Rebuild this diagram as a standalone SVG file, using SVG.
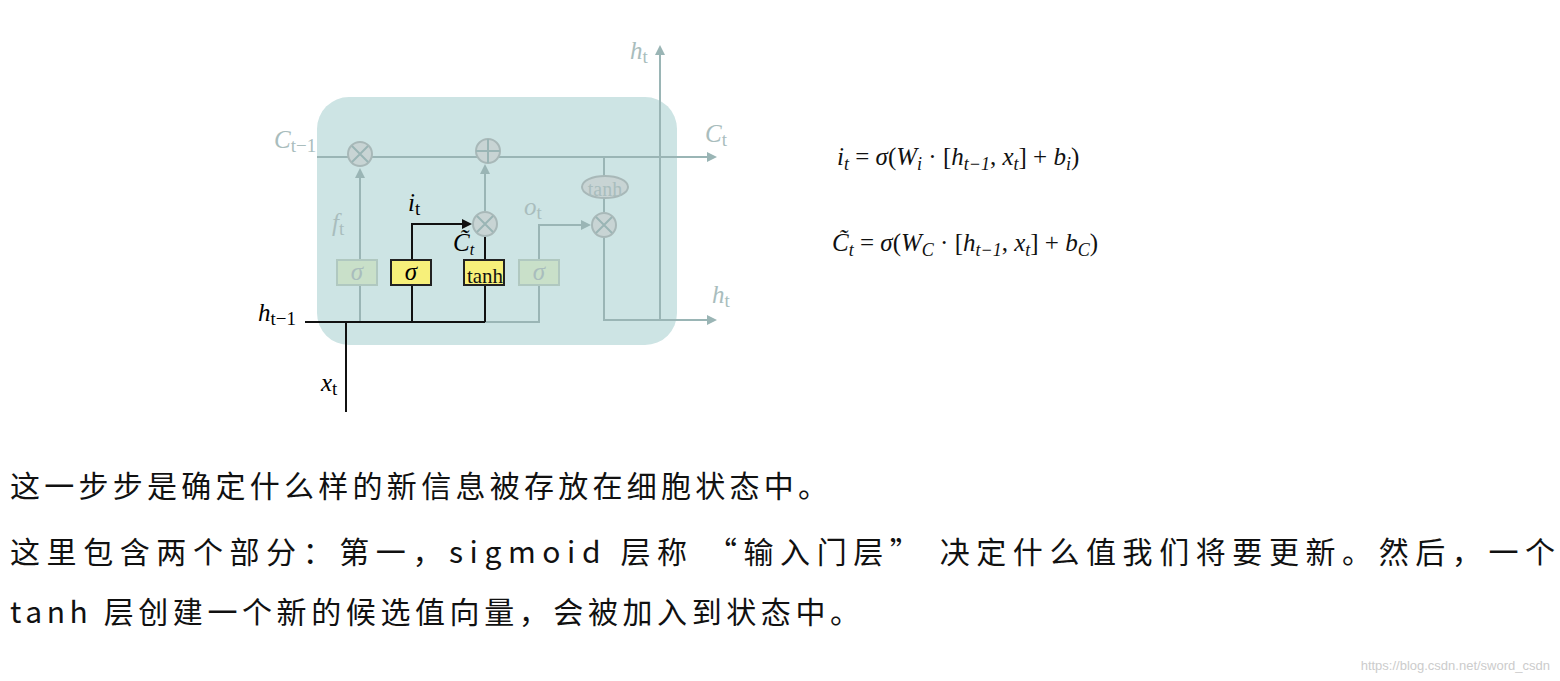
<svg xmlns="http://www.w3.org/2000/svg" width="1560" height="681" viewBox="0 0 1560 681">
<style>
.g{stroke:#9ab5b5;stroke-width:2;fill:none}
.k{stroke:#111;stroke-width:2;fill:none}
.op{fill:#c8d4d4;stroke:#a8b8b8;stroke-width:2}
.lb{font-family:"Liberation Serif",serif;font-style:italic;font-size:25px}
.lg{fill:#a9bdbd}
.eq{font-family:"Liberation Serif",serif;font-style:italic;font-size:25px;fill:#111}
.cn{font-family:"Noto Sans CJK SC",sans-serif;font-size:30px;fill:#111}
</style>
<defs>
<marker id="ag" markerWidth="10" markerHeight="10" refX="8" refY="5" orient="auto" markerUnits="userSpaceOnUse"><path d="M0,0L10,5L0,10z" fill="#9ab5b5"/></marker>
<marker id="ak" markerWidth="10" markerHeight="10" refX="8" refY="5" orient="auto" markerUnits="userSpaceOnUse"><path d="M0,0L10,5L0,10z" fill="#111"/></marker>
</defs>
<rect width="1560" height="681" fill="#fff"/>
<rect x="317" y="97" width="360" height="248" rx="32" fill="#cde4e4"/>
<g id="connectors">
<line class="g" x1="317" y1="157" x2="715" y2="157" marker-end="url(#ag)"/>
<line class="g" x1="360" y1="322" x2="360" y2="170" marker-end="url(#ag)"/>
<line class="g" x1="485" y1="211" x2="485" y2="166" marker-end="url(#ag)"/>
<polyline class="g" points="485,322 539,322 539,225 589,225" marker-end="url(#ag)"/>
<line class="g" x1="604" y1="157" x2="604" y2="212"/>
<polyline class="g" points="604,238 604,320 715,320" marker-end="url(#ag)"/>
<line class="g" x1="660" y1="320" x2="660" y2="47" marker-end="url(#ag)"/>
<line class="k" x1="305" y1="322" x2="485" y2="322"/>
<line class="k" x1="346" y1="322" x2="346" y2="412"/>
<polyline class="k" points="412,322 412,224 470,224" marker-end="url(#ak)"/>
<line class="k" x1="485" y1="322" x2="485" y2="237"/>
</g>
<g id="mul1"><circle class="op" cx="360" cy="154" r="12"/><path class="g" d="M352,146L368,162M368,146L352,162"/></g>
<g id="add"><circle class="op" cx="488" cy="151" r="12"/><path class="g" d="M476,151H500M488,139V163"/></g>
<g id="mul2"><circle class="op" cx="485" cy="224" r="12"/><path class="g" d="M477,216L493,232M493,216L477,232"/></g>
<g id="mul3"><circle class="op" cx="604" cy="225" r="12"/><path class="g" d="M596,217L612,233M612,217L596,233"/></g>
<g id="tanh2"><ellipse class="op" cx="605" cy="187" rx="23" ry="11"/><text x="605" y="196" text-anchor="middle" font-family="Liberation Serif,serif" font-size="20" fill="#a9bdbd">tanh</text></g>
<g id="sf"><rect x="337" y="260" width="40" height="25" fill="#c9e0c9" stroke="#b0c8c0" stroke-width="2"/><text x="357" y="280" text-anchor="middle" class="lb lg" font-size="22">σ</text></g>
<g id="si"><rect x="391" y="260" width="40" height="25" fill="#f7f07a" stroke="#222" stroke-width="2"/><text x="411" y="280" text-anchor="middle" class="lb" font-size="22">σ</text></g>
<g id="tanh1"><rect x="464" y="260" width="40" height="25" fill="#f7f07a" stroke="#222" stroke-width="2"/><text x="485" y="283" text-anchor="middle" font-family="Liberation Serif,serif" font-size="21" fill="#111">tanh</text></g>
<g id="so"><rect x="519" y="260" width="40" height="25" fill="#c9e0c9" stroke="#b0c8c0" stroke-width="2"/><text x="539" y="280" text-anchor="middle" class="lb lg" font-size="22">σ</text></g>
<g id="labels">
<text x="274" y="148" class="lb lg">C<tspan font-style="normal" font-size="19" dy="4">t−1</tspan></text>
<text x="705" y="142" class="lb lg">C<tspan font-style="normal" font-size="19" dy="4">t</tspan></text>
<text x="630" y="59" class="lb lg">h<tspan font-style="normal" font-size="19" dy="4">t</tspan></text>
<text x="712" y="303" class="lb lg">h<tspan font-style="normal" font-size="19" dy="4">t</tspan></text>
<text x="332" y="231" class="lb lg">f<tspan font-style="normal" font-size="19" dy="4">t</tspan></text>
<text x="524" y="215" class="lb lg">o<tspan font-style="normal" font-size="19" dy="4">t</tspan></text>
<text x="408" y="211" class="lb">i<tspan font-style="normal" font-size="19" dy="4">t</tspan></text>
<text x="453" y="251" class="lb" font-size="21">C̃<tspan font-size="16" dy="4">t</tspan></text>
<text x="258" y="321" class="lb">h<tspan font-style="normal" font-size="19" dy="4">t−1</tspan></text>
<text x="321" y="391" class="lb">x<tspan font-style="normal" font-size="19" dy="4">t</tspan></text>
</g>
<text x="837" y="165" class="eq">i<tspan font-size="18" dy="5">t</tspan><tspan dy="-5" font-style="normal"> = </tspan>σ<tspan font-style="normal">(</tspan>W<tspan font-size="18" dy="5">i</tspan><tspan dy="-5" font-style="normal"> · [</tspan>h<tspan font-size="18" dy="5">t−1</tspan><tspan dy="-5" font-style="normal">, </tspan>x<tspan font-size="18" dy="5">t</tspan><tspan dy="-5" font-style="normal">] + </tspan>b<tspan font-size="18" dy="5">i</tspan><tspan dy="-5" font-style="normal">)</tspan></text>
<text x="832" y="251" class="eq">C̃<tspan font-size="18" dy="5">t</tspan><tspan dy="-5" font-style="normal"> = </tspan>σ<tspan font-style="normal">(</tspan>W<tspan font-size="18" dy="5">C</tspan><tspan dy="-5" font-style="normal"> · [</tspan>h<tspan font-size="18" dy="5">t−1</tspan><tspan dy="-5" font-style="normal">, </tspan>x<tspan font-size="18" dy="5">t</tspan><tspan dy="-5" font-style="normal">] + </tspan>b<tspan font-size="18" dy="5">C</tspan><tspan dy="-5" font-style="normal">)</tspan></text>
<text x="10" y="497" class="cn" textLength="818" lengthAdjust="spacing">这一步步是确定什么样的新信息被存放在细胞状态中。</text>
<text x="10" y="563" class="cn" textLength="1545" lengthAdjust="spacing">这里包含两个部分：第一，sigmoid 层称 “输入门层” 决定什么值我们将要更新。然后，一个</text>
<text x="10" y="623" class="cn" textLength="850" lengthAdjust="spacing">tanh 层创建一个新的候选值向量，会被加入到状态中。</text>
<text x="1550" y="670" text-anchor="end" font-family="Liberation Sans,sans-serif" font-size="13" fill="#ccc">https://blog.csdn.net/sword_csdn</text>
</svg>
